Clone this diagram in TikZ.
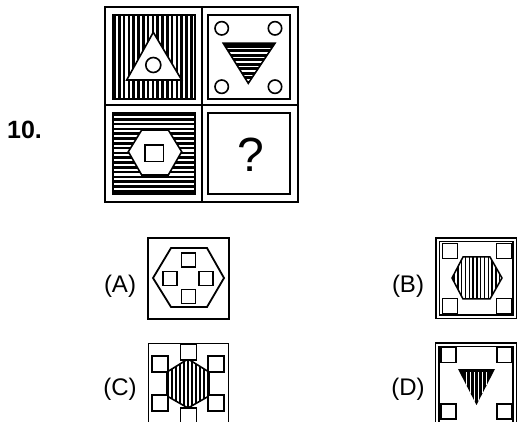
\documentclass[tikz,border=0pt]{standalone}
\usepackage{fontspec}
\setmainfont{Liberation Sans}
\tikzset{
    grid-line/.style = {draw=black, line width=2.2pt},
    inner-box/.style = {draw=black, line width=1.6pt},
    thin-box/.style = {draw=black, line width=1.2pt},
    small-square/.style = {draw=black, fill=white, line width=1.8pt},
    stripe/.style = {black, line width=2.5pt},
    gap-line/.style = {white, line width=1.6pt},
    option-label/.style = {font=\fontsize{24}{28}\selectfont, inner sep=0pt, anchor=base},
}

\begin{document}
\begin{tikzpicture}[x=1pt, y=-1pt]
\useasboundingbox (0,0) rectangle (517,422);

% question number
\node[font=\bfseries\fontsize{25}{30}\selectfont, inner sep=0pt, anchor=base west] (number) at (7,139) {10.};

% outer grid
\draw[grid-line] (105,7) rectangle (298,202);
\draw[grid-line] (202,7) -- (202,202);
\draw[grid-line] (105,105) -- (298,105);

% top left cell
\begin{scope}
  \clip (113,15) rectangle (195,99);
  \foreach \x in {114.5,119.3,...,196} \draw[stripe] (\x,15) -- (\x,99);
\end{scope}
\draw[inner-box] (113,15) rectangle (195,99);
\draw[inner-box, fill=white] (153.3,32.3) -- (181.7,80) -- (126.7,80) -- cycle;
\draw[inner-box] (153.3,65) circle (7.5pt);

% top right cell
\draw[inner-box] (208,15) rectangle (290,99);
\foreach \cx/\cy in {221.7/28.3, 275/28.3, 221.7/86.7, 275/86.7}
  \draw[inner-box] (\cx,\cy) circle (6.7pt);
\fill[black] (223.3,43.3) -- (275,43.3) -- (248.3,83.3) -- cycle;
\begin{scope}
  \clip (223.3,43.3) -- (275,43.3) -- (248.3,83.3) -- cycle;
  \foreach \y in {48.5,53,...,80} \draw[gap-line] (220,\y) -- (280,\y);
\end{scope}
\draw[inner-box, line join=miter] (223.3,43.3) -- (275,43.3) -- (248.3,83.3) -- cycle;

% bottom left cell
\begin{scope}
  \clip (113,113) rectangle (195,194);
  \foreach \y in {114.5,119.3,...,195} \draw[stripe] (113,\y) -- (195,\y);
\end{scope}
\draw[inner-box] (113,113) rectangle (195,194);
\draw[inner-box, fill=white] (128.3,151.7) -- (141.7,130) -- (168.3,130) -- (181.7,151.7)
  -- (168.3,175) -- (141.7,175) -- cycle;
\draw[inner-box] (145,145) rectangle (163.3,161.7);

% bottom right cell
\draw[inner-box] (208,113) rectangle (290,194);
\node[font=\fontsize{48}{56}\selectfont, inner sep=0pt, anchor=base] (query) at (250.5,172) {?};

% option A
\node[option-label] (label-a) at (120,293) {(A)};
\draw[line width=2.5pt] (148,238) rectangle (229,319);
\draw[line width=1.8pt] (153,278) -- (171,248) -- (207,248) -- (224,278) -- (207,307) -- (171,307) -- cycle;
\foreach \sx/\sy in {188.5/260, 170/278.5, 206/278.5, 188.5/296.5}
  \draw[small-square] (\sx-7,\sy-7) rectangle (\sx+7,\sy+7);

% option B
\node[option-label] (label-b) at (408,293) {(B)};
\draw[thin-box] (436,238) rectangle (516.3,318.5);
\draw[thin-box] (439.5,241.5) rectangle (513,315);
\begin{scope}
  \clip (452,278) -- (463,257) -- (490,257) -- (502,278) -- (490,299) -- (463,299) -- cycle;
  \foreach \x in {454,457.8,...,502} \draw[black, line width=1.4pt] (\x,250) -- (\x,305);
\end{scope}
\draw[line width=1.5pt] (452,278) -- (463,257) -- (490,257) -- (502,278) -- (490,299) -- (463,299) -- cycle;
\foreach \sx/\sy in {450/251, 504/251, 450/306, 504/306}
  \draw[small-square] (\sx-7.5,\sy-7.5) rectangle (\sx+7.5,\sy+7.5);

% option C
\node[option-label] (label-c) at (120,395) {(C)};
\draw[line width=1.6pt] (148.3,343.3) -- (148.3,430) (228.3,343.3) -- (228.3,430)
  (148.3,343.3) -- (228.3,343.3);
\begin{scope}
  \clip (188,359) -- (209,372) -- (209,396) -- (188,408) -- (167,396) -- (167,372) -- cycle;
  \foreach \x in {168,172,...,210} \draw[black, line width=1.7pt] (\x,355) -- (\x,412);
\end{scope}
\draw[line width=1.6pt] (188,359) -- (209,372) -- (209,396) -- (188,408) -- (167,396) -- (167,372) -- cycle;
\foreach \sx/\sy in {188.5/352, 160/364, 160/403, 216/364, 216/403, 188.5/416}
  \draw[small-square] (\sx-8,\sy-8) rectangle (\sx+8,\sy+8);

% option D
\node[option-label] (label-d) at (408,395) {(D)};
\draw[thin-box] (435.5,430) -- (435.5,343) -- (516.3,343) -- (516.3,430);
\draw[thin-box] (439,430) -- (439,346.5) -- (513,346.5) -- (513,430);
\fill[black] (458,369) -- (495,369) -- (476.5,405) -- cycle;
\begin{scope}
  \clip (458,369) -- (495,369) -- (476.5,405) -- cycle;
  \foreach \x in {466.5,470.5,...,488} \draw[white, line width=1.2pt] (\x,372) -- (\x,410);
\end{scope}
\foreach \sx/\sy in {448.5/355, 504.5/355, 448.5/411.5, 504.5/411.5}
  \draw[small-square] (\sx-7.5,\sy-7.5) rectangle (\sx+7.5,\sy+7.5);
\end{tikzpicture}
\end{document}
